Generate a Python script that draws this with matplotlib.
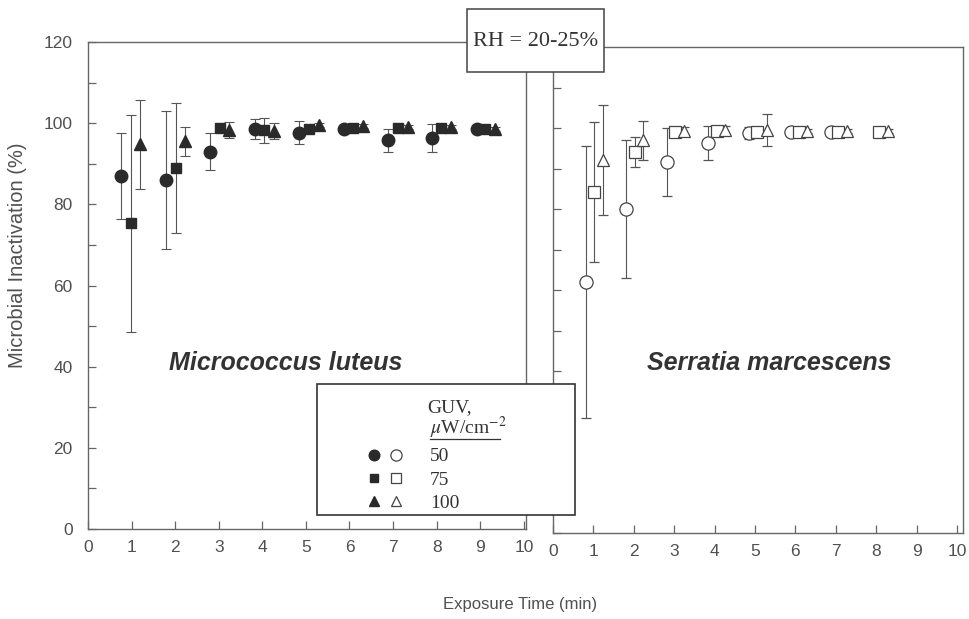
import numpy as np
import matplotlib
matplotlib.use("Agg")
import matplotlib.pyplot as plt
from matplotlib.patches import Rectangle
from matplotlib.legend_handler import HandlerTuple

plt.rcParams["font.family"] = "Liberation Sans"
plt.rcParams["mathtext.fontset"] = "stix"

INK = "#2a2a2a"
AX = "#666666"
TXT = "#505050"

# Micrococcus luteus (filled markers) -- GUV 50 / 75 / 100 uW/cm2
ml_t50 = [0.76, 1.80, 2.81, 3.83, 4.83, 5.88, 6.88, 7.90, 8.92]
ml_y50 = [87.0, 86.0, 93.0, 98.5, 97.7, 98.6, 95.8, 96.3, 98.6]
ml_e50 = [10.5, 17.0, 4.5, 2.5, 2.8, 0.6, 2.8, 3.5, 0.5]

ml_t75 = [0.98, 2.02, 3.03, 4.03, 5.06, 6.07, 7.11, 8.11, 9.11]
ml_y75 = [75.3, 89.0, 98.8, 98.2, 98.6, 98.8, 98.9, 98.9, 98.6]
ml_e75 = [26.7, 16.0, 1.0, 3.0, 1.0, 0.5, 0.5, 0.5, 0.5]

ml_t100 = [1.20, 2.22, 3.23, 4.27, 5.29, 6.30, 7.34, 8.34, 9.34]
ml_y100 = [94.8, 95.5, 98.3, 98.0, 99.6, 99.2, 99.1, 99.0, 98.6]
ml_e100 = [11.0, 3.5, 2.0, 2.0, 0.5, 0.5, 0.5, 0.5, 0.5]

# Serratia marcescens (open markers)
sm_t50 = [0.81, 1.81, 2.81, 3.84, 4.86, 5.88, 6.87]
sm_y50 = [62.0, 80.0, 91.6, 96.2, 98.7, 99.1, 99.1]
sm_e50 = [33.5, 17.0, 8.5, 4.2, 1.5, 0.5, 0.5]

sm_t75 = [1.02, 2.03, 3.02, 4.05, 5.06, 6.10, 7.06, 8.08]
sm_y75 = [84.2, 94.0, 99.1, 99.3, 99.1, 99.1, 99.1, 99.1]
sm_e75 = [17.3, 3.7, 1.0, 1.0, 1.0, 0.5, 0.5, 0.5]

sm_t100 = [1.23, 2.24, 3.24, 4.26, 5.29, 6.30, 7.28, 8.30]
sm_y100 = [92.1, 97.0, 99.3, 99.5, 99.5, 99.3, 99.3, 99.3]
sm_e100 = [13.6, 4.8, 1.0, 1.0, 4.0, 0.5, 0.5, 0.5]

doses = ["50", "75", "100"]
x_ticks = list(range(0, 11))
y_ticks = list(range(0, 121, 20))

W, H = 970, 619
fig = plt.figure(figsize=(W / 100, H / 100), dpi=100, facecolor="white")


def px(x0, y0, x1, y1):
    """pixel box (top-left origin) -> figure fraction rect"""
    return [x0 / W, 1 - y1 / H, (x1 - x0) / W, (y1 - y0) / H]


ax1 = fig.add_axes(px(88, 42, 526, 529))
ax2 = fig.add_axes(px(553, 47, 963, 533))

for ax in (ax1, ax2):
    ax.set_ylim(0, 120)
    ax.set_xticks(x_ticks)
    ax.set_yticks(y_ticks)
    ax.set_yticks(range(10, 120, 20), minor=True)
    for s in ax.spines.values():
        s.set_color(AX)
        s.set_linewidth(1.0)
    ax.tick_params(axis="both", which="both", direction="in", length=6,
                   width=0.9, color=AX, labelcolor=TXT, labelsize=12.5)
    ax.tick_params(axis="x", pad=8)
    ax.tick_params(axis="y", pad=11)
ax1.set_xlim(0, 10.05)
ax2.set_xlim(0, 10.15)
ax2.tick_params(axis="y", labelleft=False)

eb_kw = dict(ls="none", ecolor="#555555", elinewidth=0.8, capsize=3.6,
             capthick=0.8)
series_l = [(ml_t50, ml_y50, ml_e50, "o", 9.0),
            (ml_t75, ml_y75, ml_e75, "s", 7.5),
            (ml_t100, ml_y100, ml_e100, "^", 9.0)]
series_r = [(sm_t50, sm_y50, sm_e50, "o", 9.5),
            (sm_t75, sm_y75, sm_e75, "s", 8.0),
            (sm_t100, sm_y100, sm_e100, "^", 9.0)]

h_fill, h_open = [], []
for t, y, e, m, ms in series_l:
    eb = ax1.errorbar(t, y, yerr=e, marker=m, ms=ms, mfc=INK, mec=INK,
                      **eb_kw)
    h_fill.append(eb[0])
for t, y, e, m, ms in series_r:
    eb = ax2.errorbar(t, y, yerr=e, marker=m, ms=ms, mfc="white", mec="#444444",
                      mew=0.9, **eb_kw)
    h_open.append(eb[0])

ax1.text(0.452, 0.34, "Micrococcus luteus", transform=ax1.transAxes,
         fontsize=18, fontweight="bold", style="italic", color="#333333",
         ha="center", va="center")
ax2.text(0.527, 0.35, "Serratia marcescens", transform=ax2.transAxes,
         fontsize=18, fontweight="bold", style="italic", color="#333333",
         ha="center", va="center")

fig.text(18 / W, 1 - 255 / H, "Microbial Inactivation (%)", rotation=90,
         fontsize=14.5, color=TXT, ha="center", va="center")
fig.text(520 / W, 1 - 604 / H, "Exposure Time (min)", fontsize=12,
         color=TXT, ha="center", va="center")

# RH box on top of the panel gap
fig.add_artist(Rectangle(px(467, 9, 604, 72)[:2], *px(467, 9, 604, 72)[2:],
                         transform=fig.transFigure, fc="white", ec="#444444",
                         lw=1.1, zorder=4))
fig.text(535.5 / W, 1 - 42 / H, "RH = 20-25%", family="Liberation Serif",
         fontsize=16, color="#333333", ha="center", va="center", zorder=6)

# legend box
fig.add_artist(Rectangle(px(317, 384, 575, 515)[:2], *px(317, 384, 575, 515)[2:],
                         transform=fig.transFigure, fc="white", ec="#333333",
                         lw=1.2, zorder=4))
fig.text(450 / W, 1 - 408 / H, "GUV,", family="Liberation Serif",
         fontsize=14, color="#333333", ha="center", va="center", zorder=6)
fig.text(430 / W, 1 - 428 / H, r"$\mu$W/cm$^{-2}$", family="Liberation Serif",
         fontsize=14, color="#333333", ha="left", va="center", zorder=6)
fig.add_artist(plt.Line2D([430 / W, 500 / W], [1 - 439 / H, 1 - 439 / H],
                          transform=fig.transFigure, color="#333333", lw=0.9,
                          zorder=6))
leg = fig.legend(handles=list(zip(h_fill, h_open)), labels=doses,
                 handler_map={tuple: HandlerTuple(ndivide=None, pad=0.3)},
                 loc="upper left", bbox_to_anchor=(356 / W, 1 - 438 / H),
                 frameon=False, markerscale=0.85, handlelength=2.0,
                 handletextpad=1.3, labelspacing=0.3, borderpad=0,
                 prop={"family": "Liberation Serif", "size": 14})
leg.set_zorder(7)
for t in leg.get_texts():
    t.set_color("#333333")

fig.savefig("out.png", dpi=100, facecolor="white")
